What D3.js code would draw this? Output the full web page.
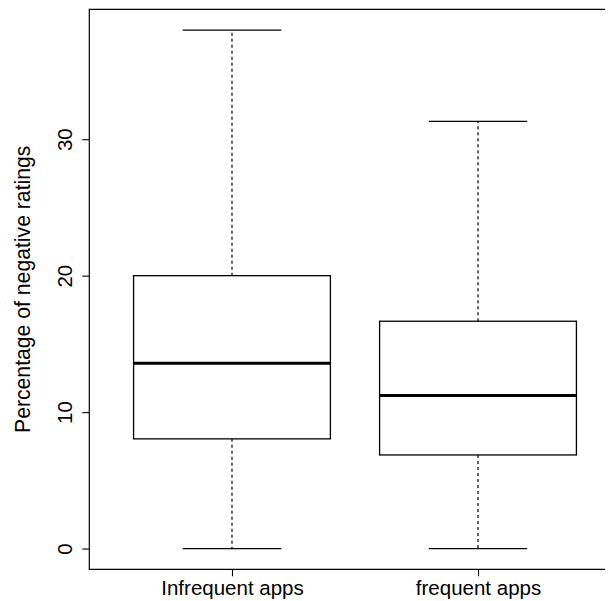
<!DOCTYPE html>
<html>
<head>
<meta charset="utf-8">
<script src="https://cdn.jsdelivr.net/npm/d3@7"></script>
<style>
  html, body { margin: 0; padding: 0; background: #fff; overflow: hidden; }
  svg { display: block; overflow: hidden; font-family: "Liberation Sans", Arial, Helvetica, sans-serif; }
</style>
</head>
<body>
<svg id="chart" width="610" height="601"></svg>
<script>
// Five-number summaries for each group of apps
const categories = ["Infrequent apps", "frequent apps"];
const lowerWhisker = [0, 0];
const lowerQuartile = [8.04, 6.86];
const medians = [13.58, 11.21];
const upperQuartile = [20.0, 16.66];
const upperWhisker = [38.0, 31.3];
const yTicks = [0, 10, 20, 30];
const yLabel = "Percentage of negative ratings";

const svg = d3.select("#chart");
const frameEnd = 605;

// Plot region (its right side lies past the edge of the page)
const plotLeft = 89.3, plotRight = 620.7, plotTop = 9.3, plotBottom = 569.3;

// Group positions 1..n, padded like a base-graphics boxplot
const x = d3.scaleLinear().domain([0.42, 2.58]).range([plotLeft, plotRight]);
const y = d3.scaleLinear().domain([-1.52, 39.52]).range([plotBottom, plotTop]);

const boxWidth = 0.8;   // in group units
const capWidth = 0.4;

const boxes = categories.map((c, i) => ({
  pos: i + 1,
  lo: lowerWhisker[i], q1: lowerQuartile[i], med: medians[i],
  q3: upperQuartile[i], hi: upperWhisker[i]
}));

const g = svg.append("g");

// Whiskers (dashed)
g.selectAll("line.whisker-up").data(boxes).join("line")
  .attr("class", "whisker-up")
  .attr("x1", d => x(d.pos)).attr("x2", d => x(d.pos))
  .attr("y1", d => y(d.q3)).attr("y2", d => y(d.hi))
  .attr("stroke", "#000").attr("stroke-width", 1.2).attr("stroke-dasharray", "3,3");
g.selectAll("line.whisker-down").data(boxes).join("line")
  .attr("class", "whisker-down")
  .attr("x1", d => x(d.pos)).attr("x2", d => x(d.pos))
  .attr("y1", d => y(d.q1)).attr("y2", d => y(d.lo))
  .attr("stroke", "#000").attr("stroke-width", 1.2).attr("stroke-dasharray", "3,3");

// Staples
["hi", "lo"].forEach(k => {
  g.selectAll("line.cap-" + k).data(boxes).join("line")
    .attr("class", "cap-" + k)
    .attr("x1", d => x(d.pos - capWidth / 2)).attr("x2", d => x(d.pos + capWidth / 2))
    .attr("y1", d => y(d[k])).attr("y2", d => y(d[k]))
    .attr("stroke", "#000").attr("stroke-width", 1.3);
});

// Boxes
g.selectAll("rect.box").data(boxes).join("rect")
  .attr("class", "box")
  .attr("x", d => x(d.pos - boxWidth / 2))
  .attr("width", d => x(d.pos + boxWidth / 2) - x(d.pos - boxWidth / 2))
  .attr("y", d => y(d.q3))
  .attr("height", d => y(d.q1) - y(d.q3))
  .attr("fill", "#fff").attr("stroke", "#000").attr("stroke-width", 1.3);

// Medians
g.selectAll("line.median").data(boxes).join("line")
  .attr("class", "median")
  .attr("x1", d => x(d.pos - boxWidth / 2)).attr("x2", d => x(d.pos + boxWidth / 2))
  .attr("y1", d => y(d.med)).attr("y2", d => y(d.med))
  .attr("stroke", "#000").attr("stroke-width", 3);

// Frame: top, left and bottom edges only
svg.append("line")
  .attr("x1", plotLeft).attr("x2", frameEnd).attr("y1", plotTop).attr("y2", plotTop)
  .attr("stroke", "#000").attr("stroke-width", 1.2);
svg.append("line")
  .attr("x1", plotLeft).attr("x2", frameEnd).attr("y1", plotBottom).attr("y2", plotBottom)
  .attr("stroke", "#000").attr("stroke-width", 1.2);
svg.append("line")
  .attr("x1", plotLeft).attr("x2", plotLeft).attr("y1", plotTop - 0.6).attr("y2", plotBottom + 0.6)
  .attr("stroke", "#000").attr("stroke-width", 1.2);

// Y axis
const yAxis = svg.append("g")
  .attr("transform", `translate(${plotLeft},0)`)
  .call(d3.axisLeft(y).tickValues(yTicks).tickSize(7).tickPadding(0).tickFormat(d3.format("d")));
yAxis.select(".domain").remove();
yAxis.selectAll(".tick line").attr("stroke", "#000").attr("stroke-width", 1.1);
yAxis.selectAll(".tick text")
  .attr("x", 0).attr("dy", null)
  .attr("transform", "translate(-17,0) rotate(-90)")
  .attr("text-anchor", "middle")
  .attr("font-size", 20.5).attr("fill", "#000")
  .attr("font-family", "Liberation Sans, Arial, sans-serif");

// X axis
const xAxis = svg.append("g")
  .attr("transform", `translate(0,${plotBottom})`)
  .call(d3.axisBottom(x).tickValues([1, 2]).tickSize(7).tickPadding(0)
    .tickFormat(d => categories[d - 1]));
xAxis.select(".domain").remove();
xAxis.selectAll(".tick line").attr("stroke", "#000").attr("stroke-width", 1.1);
xAxis.selectAll(".tick text")
  .attr("y", 26).attr("dy", null)
  .attr("font-size", 20.5).attr("fill", "#000")
  .attr("font-family", "Liberation Sans, Arial, sans-serif");

// Y axis title
svg.append("text")
  .attr("transform", `translate(30,${(plotTop + plotBottom) / 2}) rotate(-90)`)
  .attr("text-anchor", "middle")
  .attr("font-size", 21.2)
  .attr("fill", "#000")
  .text(yLabel);
</script>
</body>
</html>
